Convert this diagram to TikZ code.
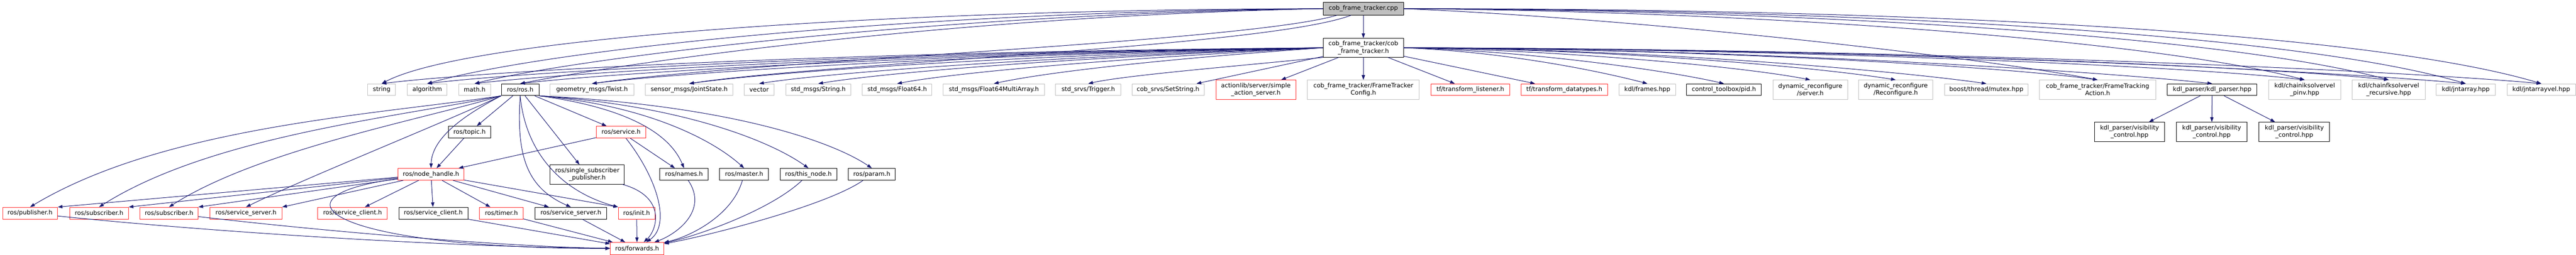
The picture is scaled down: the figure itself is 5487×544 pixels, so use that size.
\documentclass[tikz,border=0pt]{standalone}
\usepackage{fontspec}
\setmainfont{DejaVu Sans}
\usepackage{xcolor}
\usetikzlibrary{arrows.meta}
\definecolor{edgeblue}{HTML}{191970}
\definecolor{extgray}{HTML}{BFBFBF}
\definecolor{truncred}{HTML}{FF2A2A}
\definecolor{rootgray}{HTML}{BFBFBF}

\begin{document}
\begin{tikzpicture}[x=1pt,y=1pt,
    box/.style={rectangle,inner sep=0pt,minimum height=25pt,align=center,line width=1.1pt,
      font=\fontsize{13}{15.5}\selectfont},
    ext/.style={box,draw=extgray},
    known/.style={box,draw=black},
    trunc/.style={box,draw=truncred},
    root/.style={box,draw=black,fill=rootgray},
    dep/.style={draw=edgeblue,line width=1.1pt,-{Triangle[length=10pt,width=7pt]}}]
        \useasboundingbox (0,0) rectangle (5487,-544);

        \node[root,minimum width=171pt,minimum height=27pt] (cpp) at (2904,-18.5) {cob\_frame\_tracker.cpp};
        \node[known,minimum width=171pt,minimum height=40pt] (hdr) at (2904,-102) {cob\_frame\_tracker/cob\\\_frame\_tracker.h};

        \node[ext,minimum width=59pt] (string) at (813,-191.5) {string};
        \node[ext,minimum width=85pt] (algorithm) at (910,-191.5) {algorithm};
        \node[ext,minimum width=68pt] (mathh) at (1011,-191.5) {math.h};
        \node[known,minimum width=80pt] (rosh) at (1108,-191.5) {ros/ros.h};
        \node[ext,minimum width=178pt] (twist) at (1261,-191.5) {geometry\_msgs/Twist.h};
        \node[ext,minimum width=187pt] (jointstate) at (1468,-191.5) {sensor\_msgs/JointState.h};
        \node[ext,minimum width=63pt] (vector) at (1617,-191.5) {vector};
        \node[ext,minimum width=138pt] (stdstring) at (1743,-191.5) {std\_msgs/String.h};
        \node[ext,minimum width=148pt] (float64) at (1911,-191.5) {std\_msgs/Float64.h};
        \node[ext,minimum width=216pt] (float64multi) at (2117,-191.5) {std\_msgs/Float64MultiArray.h};
        \node[ext,minimum width=139pt] (trigger) at (2318,-191.5) {std\_srvs/Trigger.h};
        \node[ext,minimum width=154pt] (setstring) at (2488,-191.5) {cob\_srvs/SetString.h};
        \node[trunc,minimum width=170pt,minimum height=41pt] (actionsrv) at (2675,-191.5) {actionlib/server/simple\\\_action\_server.h};
        \node[ext,minimum width=238pt,minimum height=41pt] (trackercfg) at (2904,-191.5) {cob\_frame\_tracker/FrameTracker\\Config.h};
        \node[trunc,minimum width=167pt] (tflistener) at (3132,-191.5) {tf/transform\_listener.h};
        \node[trunc,minimum width=185pt] (tfdatatypes) at (3332,-191.5) {tf/transform\_datatypes.h};
        \node[ext,minimum width=120pt] (kdlframes) at (3509,-191.5) {kdl/frames.hpp};
        \node[known,minimum width=159pt] (pid) at (3672,-191.5) {control\_toolbox/pid.h};
        \node[ext,minimum width=159pt,minimum height=41pt] (drserver) at (3856,-191.5) {dynamic\_reconfigure\\/server.h};
        \node[ext,minimum width=158pt,minimum height=41pt] (drreconf) at (4038,-191.5) {dynamic\_reconfigure\\/Reconfigure.h};
        \node[ext,minimum width=178pt] (mutex) at (4231,-191.5) {boost/thread/mutex.hpp};
        \node[ext,minimum width=248pt,minimum height=41pt] (trackingaction) at (4468,-191.5) {cob\_frame\_tracker/FrameTracking\\Action.h};
        \node[known,minimum width=191pt] (kdlparser) at (4712,-191.5) {kdl\_parser/kdl\_parser.hpp};
        \node[ext,minimum width=153pt,minimum height=41pt] (chainik) at (4909,-191.5) {kdl/chainiksolvervel\\\_pinv.hpp};
        \node[ext,minimum width=155pt,minimum height=41pt] (chainfk) at (5088,-191.5) {kdl/chainfksolvervel\\\_recursive.hpp};
        \node[ext,minimum width=126pt] (jntarray) at (5252,-191.5) {kdl/jntarray.hpp};
        \node[ext,minimum width=146pt] (jntarrayvel) at (5413,-191.5) {kdl/jntarrayvel.hpp};

        \node[known,minimum width=90pt] (topic) at (1000,-282) {ros/topic.h};
        \node[trunc,minimum width=106pt] (service) at (1323,-282) {ros/service.h};
        \node[known,minimum width=150pt,minimum height=41pt] (vis1) at (4536,-281.5) {kdl\_parser/visibility\\\_control.hpp};
        \node[known,minimum width=150pt,minimum height=41pt] (vis2) at (4711,-281.5) {kdl\_parser/visibility\\\_control.hpp};
        \node[known,minimum width=150pt,minimum height=41pt] (vis3) at (4887,-281.5) {kdl\_parser/visibility\\\_control.hpp};

        \node[trunc,minimum width=141pt] (nodehandle) at (918,-372) {ros/node\_handle.h};
        \node[known,minimum width=158pt,minimum height=41pt] (singlesub) at (1251,-372.5) {ros/single\_subscriber\\\_publisher.h};
        \node[known,minimum width=103pt] (names) at (1457,-372) {ros/names.h};
        \node[known,minimum width=104pt] (master) at (1585,-372) {ros/master.h};
        \node[known,minimum width=121pt] (thisnode) at (1722,-372) {ros/this\_node.h};
        \node[known,minimum width=100pt] (param) at (1857,-372) {ros/param.h};

        \node[trunc,minimum width=117pt] (publisher) at (64,-455) {ros/publisher.h};
        \node[trunc,minimum width=125pt] (subscriber1) at (211,-455) {ros/subscriber.h};
        \node[trunc,minimum width=124pt] (subscriber2) at (360,-455) {ros/subscriber.h};
        \node[trunc,minimum width=153pt] (srvserver1) at (524,-455) {ros/service\_server.h};
        \node[trunc,minimum width=148pt] (srvclient1) at (751,-455) {ros/service\_client.h};
        \node[known,minimum width=147pt] (srvclient2) at (923,-455) {ros/service\_client.h};
        \node[trunc,minimum width=93pt] (timer) at (1068,-455) {ros/timer.h};
        \node[known,minimum width=153pt] (srvserver2) at (1216,-455) {ros/service\_server.h};
        \node[trunc,minimum width=78pt] (init) at (1356,-455) {ros/init.h};

        \node[trunc,minimum width=114pt,minimum height=26pt] (forwards) at (1357,-530.5) {ros/forwards.h};

        % from the .cpp file
        \draw[dep] (cpp) -- (hdr);
        \draw[dep] (cpp.west) .. controls (1900,-20) and (1000,-80) .. (string.north);
        \draw[dep] (cpp.west) .. controls (1900,-25) and (1150,-110) .. (algorithm.north);
        \draw[dep] (cpp.west) .. controls (1950,-30) and (1200,-130) .. (mathh.north);
        \draw[dep] (cpp.west) .. controls (2000,-35) and (1300,-140) .. (rosh.north);
        \draw[dep] ([xshift=30pt]cpp.south west) .. controls (2650,-90) and (1600,-130) .. (twist.north);
        \draw[dep] ([xshift=60pt]cpp.south west) .. controls (2700,-100) and (1750,-135) .. (jointstate.north);
        \draw[dep] (cpp.east) .. controls (3500,-40) and (4200,-120) .. (trackingaction.north);
        \draw[dep] (cpp.east) .. controls (3800,-25) and (4600,-90) .. (chainik.north);
        \draw[dep] (cpp.east) .. controls (3900,-22) and (4750,-80) .. (chainfk.north);
        \draw[dep] (cpp.east) .. controls (4000,-20) and (4900,-75) .. (jntarray.north);
        \draw[dep] (cpp.east) .. controls (4100,-18) and (5050,-70) .. (jntarrayvel.north);

        % from the header
        \draw[dep] (hdr.west) .. controls (1800,-110) and (1050,-150) .. (string.north);
        \draw[dep] (hdr.west) .. controls (1850,-112) and (1130,-152) .. (algorithm.north);
        \draw[dep] (hdr.west) .. controls (1900,-114) and (1220,-154) .. (mathh.north);
        \draw[dep] (hdr.west) .. controls (1950,-116) and (1300,-156) .. (rosh.north);
        \draw[dep] (hdr.west) .. controls (2000,-118) and (1440,-156) .. (twist.north);
        \draw[dep] (hdr.west) .. controls (2100,-120) and (1630,-156) .. (jointstate.north);
        \draw[dep] (hdr.west) .. controls (2200,-122) and (1760,-156) .. (vector.north);
        \draw[dep] (hdr.west) .. controls (2250,-124) and (1880,-156) .. (stdstring.north);
        \draw[dep] (hdr.west) .. controls (2350,-126) and (2030,-156) .. (float64.north);
        \draw[dep] (hdr.west) .. controls (2450,-128) and (2220,-156) .. (float64multi.north);
        \draw[dep] (hdr.south west) .. controls (2650,-140) and (2400,-160) .. (trigger.north);
        \draw[dep] (hdr) -- (setstring);
        \draw[dep] (hdr) -- (actionsrv);
        \draw[dep] (hdr) -- (trackercfg);
        \draw[dep] (hdr) -- (tflistener);
        \draw[dep] (hdr) -- (tfdatatypes);
        \draw[dep] (hdr.east) .. controls (3200,-110) and (3400,-150) .. (kdlframes.north);
        \draw[dep] (hdr.east) .. controls (3250,-108) and (3550,-150) .. (pid.north);
        \draw[dep] (hdr.east) .. controls (3300,-106) and (3700,-140) .. (drserver.north);
        \draw[dep] (hdr.east) .. controls (3400,-104) and (3850,-140) .. (drreconf.north);
        \draw[dep] (hdr.east) .. controls (3500,-104) and (4030,-150) .. (mutex.north);
        \draw[dep] (hdr.east) .. controls (3600,-104) and (4250,-140) .. (trackingaction.north);
        \draw[dep] (hdr.east) .. controls (3700,-104) and (4450,-150) .. (kdlparser.north);
        \draw[dep] (hdr.east) .. controls (3800,-104) and (4650,-140) .. (chainik.north);
        \draw[dep] (hdr.east) .. controls (3900,-104) and (4800,-140) .. (chainfk.north);
        \draw[dep] (hdr.east) .. controls (4000,-104) and (4950,-150) .. (jntarray.north);
        \draw[dep] (hdr.east) .. controls (4100,-104) and (5100,-150) .. (jntarrayvel.north);

        \draw[dep] (kdlparser) -- (vis1);
        \draw[dep] (kdlparser) -- (vis2);
        \draw[dep] (kdlparser) -- (vis3);

        % ros/ros.h
        \draw[dep] (rosh) -- (topic);
        \draw[dep] (rosh.south west) .. controls (1000,-240) and (920,-290) .. (nodehandle.north);
        \draw[dep] (rosh.south west) .. controls (800,-245) and (350,-270) .. (publisher.north);
        \draw[dep] (rosh.south west) .. controls (850,-250) and (450,-290) .. (subscriber1.north);
        \draw[dep] (rosh.south west) .. controls (900,-255) and (550,-320) .. (subscriber2.north);
        \draw[dep] (rosh.south west) .. controls (950,-260) and (650,-380) .. (srvserver1.north);
        \draw[dep] (rosh.south) .. controls (1100,-330) and (1120,-400) .. (srvserver2.north);
        \draw[dep] (rosh.south) .. controls (1120,-330) and (1200,-410) .. (init.north west);
        \draw[dep] (rosh) -- (service);
        \draw[dep] (rosh) -- (singlesub);
        \draw[dep] (rosh.south east) .. controls (1300,-225) and (1420,-270) .. (names.north);
        \draw[dep] (rosh.south east) .. controls (1380,-225) and (1520,-300) .. (master.north);
        \draw[dep] (rosh.south east) .. controls (1450,-225) and (1640,-300) .. (thisnode.north);
        \draw[dep] (rosh.south east) .. controls (1550,-225) and (1770,-300) .. (param.north);

        \draw[dep] (topic) -- (nodehandle);
        \draw[dep] (service) -- (nodehandle);
        \draw[dep] (service) -- (names);
        \draw[dep] (service) .. controls (1400,-380) and (1430,-480) .. (forwards);

        % ros/node_handle.h
        \draw[dep] (nodehandle) -- (publisher.north east);
        \draw[dep] (nodehandle) -- (subscriber1.north east);
        \draw[dep] (nodehandle) -- (subscriber2.north east);
        \draw[dep] (nodehandle) -- (srvserver1.north east);
        \draw[dep] (nodehandle) -- (srvclient1);
        \draw[dep] (nodehandle) -- (srvclient2);
        \draw[dep] (nodehandle) -- (timer);
        \draw[dep] (nodehandle) -- (srvserver2);
        \draw[dep] (nodehandle) -- (init.north west);
        \draw[dep] (nodehandle) .. controls (560,-420) and (700,-530) .. (forwards);

        % into ros/forwards.h
        \draw[dep] (singlesub) .. controls (1420,-420) and (1400,-490) .. (forwards);
        \draw[dep] (names) .. controls (1510,-450) and (1440,-500) .. (forwards);
        \draw[dep] (master) .. controls (1560,-460) and (1470,-505) .. (forwards);
        \draw[dep] (thisnode) .. controls (1640,-450) and (1480,-505) .. (forwards);
        \draw[dep] (param) .. controls (1760,-440) and (1500,-505) .. (forwards);
        \draw[dep] (init) -- (forwards);
        \draw[dep] (srvserver2) -- (forwards);
        \draw[dep] (timer) -- (forwards);
        \draw[dep] (srvclient2) -- (forwards);
        \draw[dep] (publisher) .. controls (500,-500) and (1000,-528) .. (forwards);
        \draw[dep] (subscriber2) .. controls (700,-495) and (1100,-528) .. (forwards);
    \end{tikzpicture}
\end{document}
